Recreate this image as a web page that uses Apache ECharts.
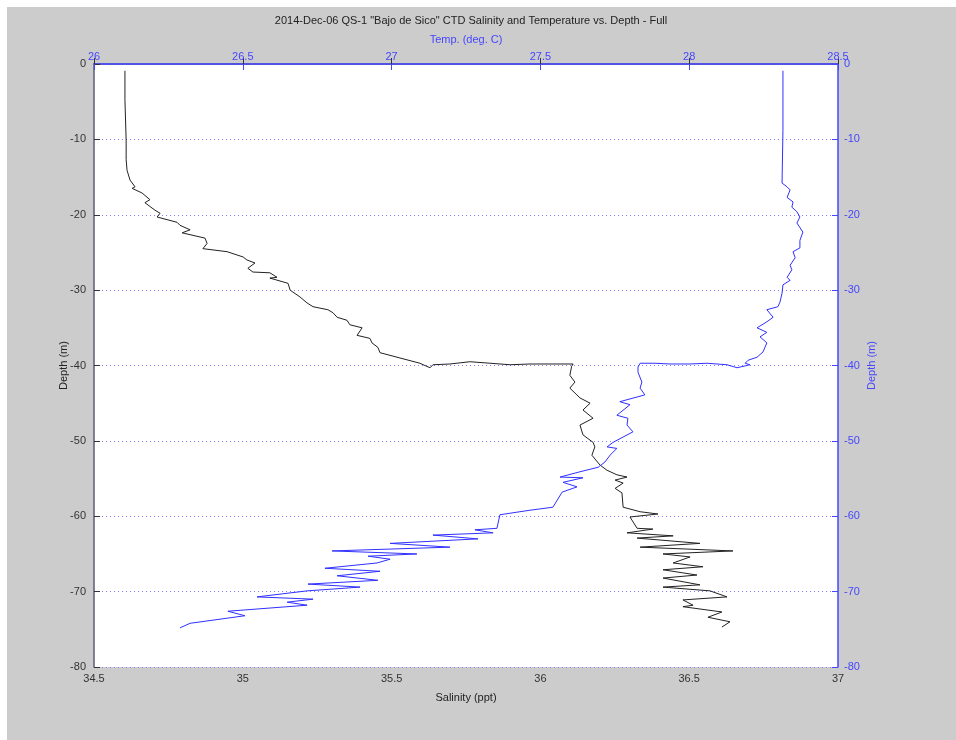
<!DOCTYPE html>
<html>
<head>
<meta charset="utf-8">
<script src="https://cdn.jsdelivr.net/npm/echarts@6/dist/echarts.min.js"></script>
<style>
  html, body { margin: 0; padding: 0; background: #fff; }
  #chart { position: absolute; left: 7px; top: 7px; width: 949px; height: 733px; }
</style>
</head>
<body>
<div id="chart"></div>
<script>
// salinity profile (black) - depth in m, salinity in ppt
const salDepth = [-0.9, -4.8, -10.1, -12.7, -14.1, -15.4, -16.3, -16.5, -17.1, -18.0, -18.4, -19.4, -19.8, -20.3, -21.0, -21.4, -22.0, -22.4, -23.1, -23.8, -24.5, -24.9, -25.6, -26.0, -26.4, -27.1, -27.6, -27.7, -28.3, -28.4, -29.1, -30.0, -30.9, -31.7, -32.2, -32.6, -33.0, -33.6, -34.0, -34.6, -35.0, -36.0, -36.4, -37.0, -37.6, -38.3, -39.0, -39.7, -40.3, -39.9, -39.8, -39.5, -39.7, -39.9, -39.8, -39.8, -39.8, -40.1, -41.3, -42.2, -43.0, -44.3, -45.0, -45.9, -47.0, -47.9, -49.2, -50.2, -50.8, -51.9, -53.2, -53.9, -54.5, -54.8, -55.2, -55.6, -56.3, -56.9, -58.8, -59.4, -59.7, -60.1, -61.6, -61.7, -62.2, -62.6, -62.9, -63.6, -64.1, -64.6, -65.0, -65.4, -66.2, -66.7, -67.1, -67.8, -68.2, -69.1, -69.4, -69.9, -70.7, -71.1, -71.8, -72.0, -72.7, -73.4, -74.0, -74.7]
const salinity = [34.604, 34.604, 34.608, 34.608, 34.611, 34.621, 34.638, 34.628, 34.661, 34.688, 34.671, 34.705, 34.722, 34.712, 34.779, 34.789, 34.823, 34.796, 34.873, 34.880, 34.866, 34.947, 35.001, 35.014, 35.041, 35.017, 35.034, 35.091, 35.115, 35.091, 35.152, 35.159, 35.192, 35.216, 35.236, 35.286, 35.303, 35.317, 35.350, 35.360, 35.401, 35.384, 35.427, 35.434, 35.454, 35.461, 35.528, 35.595, 35.629, 35.639, 35.696, 35.763, 35.831, 35.898, 35.965, 36.032, 36.110, 36.105, 36.099, 36.116, 36.099, 36.133, 36.167, 36.143, 36.177, 36.133, 36.143, 36.177, 36.183, 36.173, 36.200, 36.224, 36.257, 36.291, 36.251, 36.278, 36.251, 36.274, 36.278, 36.335, 36.395, 36.301, 36.325, 36.378, 36.291, 36.446, 36.325, 36.536, 36.335, 36.647, 36.412, 36.503, 36.446, 36.546, 36.412, 36.526, 36.412, 36.536, 36.412, 36.570, 36.627, 36.479, 36.513, 36.479, 36.610, 36.563, 36.637, 36.610]

// temperature profile (blue) - depth in m, temp in deg C
const tempDepth = [-0.9, -8.8, -15.8, -16.3, -16.7, -17.7, -18.3, -19.0, -19.6, -20.3, -21.1, -22.3, -23.4, -24.4, -24.9, -25.7, -26.7, -27.3, -28.3, -28.7, -29.3, -30.4, -31.6, -32.2, -32.6, -33.6, -34.2, -35.0, -35.6, -36.2, -37.0, -38.2, -38.9, -39.3, -39.7, -39.9, -40.3, -39.9, -39.7, -39.8, -39.8, -39.7, -39.7, -40.2, -40.9, -42.2, -43.0, -43.9, -44.8, -45.2, -46.6, -47.0, -47.9, -48.8, -50.2, -50.8, -51.0, -51.9, -52.8, -53.5, -54.1, -54.8, -54.9, -55.5, -56.1, -56.8, -58.8, -59.2, -59.8, -61.6, -61.8, -62.2, -62.5, -63.0, -63.6, -64.1, -64.6, -65.0, -65.3, -65.7, -66.2, -66.9, -67.3, -67.9, -68.5, -69.0, -69.4, -69.9, -70.7, -71.0, -71.4, -71.8, -72.6, -73.2, -74.2, -74.8]
const temperature = [28.315, 28.315, 28.312, 28.329, 28.339, 28.329, 28.349, 28.345, 28.362, 28.372, 28.362, 28.382, 28.372, 28.372, 28.349, 28.356, 28.339, 28.345, 28.329, 28.339, 28.315, 28.312, 28.305, 28.298, 28.261, 28.282, 28.261, 28.228, 28.261, 28.238, 28.261, 28.248, 28.228, 28.198, 28.188, 28.204, 28.161, 28.127, 28.060, 28.003, 27.935, 27.885, 27.835, 27.828, 27.828, 27.841, 27.835, 27.851, 27.767, 27.801, 27.757, 27.794, 27.791, 27.811, 27.744, 27.724, 27.757, 27.734, 27.717, 27.694, 27.633, 27.566, 27.643, 27.576, 27.623, 27.573, 27.542, 27.465, 27.364, 27.354, 27.280, 27.341, 27.139, 27.290, 26.995, 27.196, 26.800, 27.085, 26.921, 26.995, 26.951, 26.776, 26.961, 26.817, 26.954, 26.719, 26.894, 26.716, 26.548, 26.736, 26.649, 26.716, 26.450, 26.507, 26.323, 26.289]

const titleText = '2014-Dec-06 QS-1 "Bajo de Sico" CTD Salinity and Temperature vs. Depth - Full'
const font = 'Liberation Sans'
const blue = '#4646ff'
const darkAxis = '#5c5c78'

const chart = echarts.init(document.getElementById('chart'))
chart.setOption({
  backgroundColor: '#cccccc',
  animation: false,
  textStyle: { fontFamily: font },
  title: {
    text: titleText,
    left: 459,
    top: 3,
    textAlign: 'center',
    textStyle: { fontSize: 11, fontWeight: 'normal', color: '#222', fontFamily: font }
  },
  grid: {
    left: 87,
    right: 118,
    top: 57,
    bottom: 73,
    show: true,
    backgroundColor: '#fff',
    borderWidth: 0
  },
  xAxis: [{
    type: 'value',
    position: 'bottom',
    min: 34.5,
    max: 37,
    interval: 0.5,
    name: 'Salinity (ppt)',
    nameLocation: 'middle',
    nameGap: 25,
    nameTextStyle: { fontSize: 11, color: '#222' },
    axisLine: { lineStyle: { color: darkAxis, width: 1.5 } },
    axisTick: { inside: true, length: 6, lineStyle: { color: '#333' } },
    axisLabel: { fontSize: 11, color: '#333', margin: 6 },
    splitLine: { show: false }
  }, {
    type: 'value',
    position: 'top',
    min: 26,
    max: 28.5,
    interval: 0.5,
    name: 'Temp. (deg. C)',
    nameLocation: 'middle',
    nameGap: 19,
    nameTextStyle: { fontSize: 11, color: blue },
    axisLine: { lineStyle: { color: blue, width: 1.5 } },
    axisTick: { inside: true, length: 6, lineStyle: { color: blue } },
    axisLabel: { fontSize: 11, color: blue, margin: 2 },
    splitLine: { show: false }
  }],
  yAxis: [{
    type: 'value',
    position: 'left',
    min: -80,
    max: 0,
    interval: 10,
    name: 'Depth (m)',
    nameLocation: 'middle',
    nameGap: 25,
    nameMoveOverlap: false,
    nameTextStyle: { fontSize: 11, color: '#222' },
    axisLine: { lineStyle: { color: darkAxis, width: 1.5 } },
    axisTick: { inside: true, length: 6, lineStyle: { color: '#333' } },
    axisLabel: { fontSize: 11, color: '#333', margin: 8 },
    splitLine: { show: true, lineStyle: { color: '#8080ff', type: [1, 3], width: 1 } }
  }, {
    type: 'value',
    position: 'right',
    min: -80,
    max: 0,
    interval: 10,
    name: 'Depth (m)',
    nameLocation: 'middle',
    nameGap: 28,
    nameMoveOverlap: false,
    nameTextStyle: { fontSize: 11, color: blue },
    axisLine: { lineStyle: { color: blue, width: 1.5 } },
    axisTick: { inside: true, length: 6, lineStyle: { color: blue } },
    axisLabel: { fontSize: 11, color: blue, margin: 6 },
    splitLine: { show: false }
  }],
  series: [{
    name: 'Salinity',
    type: 'line',
    xAxisIndex: 0,
    yAxisIndex: 0,
    showSymbol: false,
    lineStyle: { color: '#222', width: 1 },
    data: salDepth.map((d, i) => [salinity[i], d])
  }, {
    name: 'Temperature',
    type: 'line',
    xAxisIndex: 1,
    yAxisIndex: 1,
    showSymbol: false,
    lineStyle: { color: '#3030ff', width: 1 },
    data: tempDepth.map((d, i) => [temperature[i], d])
  }]
})
</script>
</body>
</html>
